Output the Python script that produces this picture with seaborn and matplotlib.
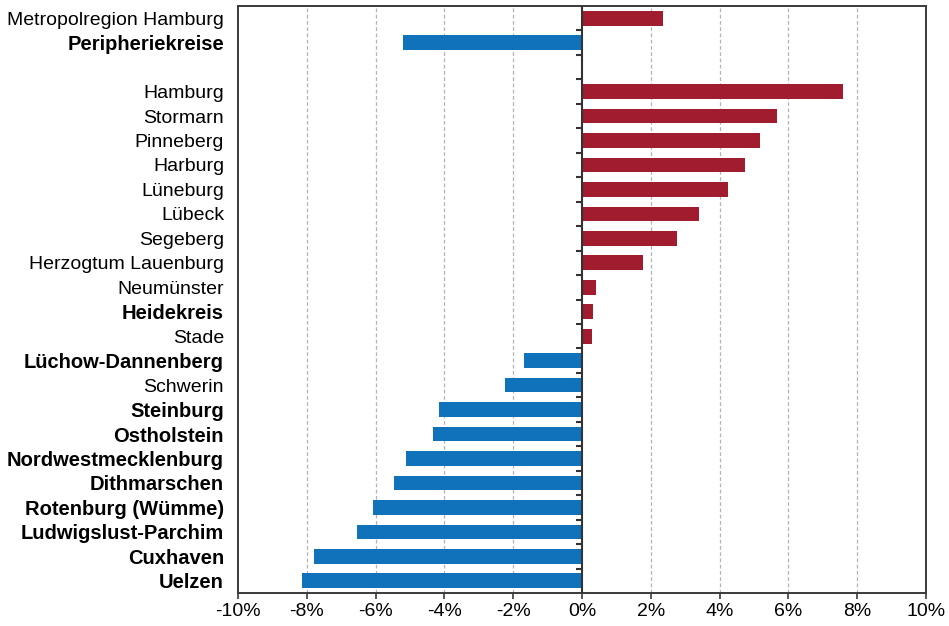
import matplotlib
matplotlib.use('Agg')
import matplotlib.pyplot as plt
from matplotlib.ticker import PercentFormatter
import seaborn as sns
import pandas as pd

# Veränderung in Prozent, von oben nach unten wie im Diagramm
regionen = ['Metropolregion Hamburg', 'Peripheriekreise',
            'Hamburg', 'Stormarn', 'Pinneberg', 'Harburg', 'Lüneburg', 'Lübeck',
            'Segeberg', 'Herzogtum Lauenburg', 'Neumünster', 'Heidekreis', 'Stade',
            'Lüchow-Dannenberg', 'Schwerin', 'Steinburg', 'Ostholstein',
            'Nordwestmecklenburg', 'Dithmarschen', 'Rotenburg (Wümme)',
            'Ludwigslust-Parchim', 'Cuxhaven', 'Uelzen']
werte = [2.36, -5.19,
         7.59, 5.68, 5.18, 4.73, 4.25, 3.39,
         2.75, 1.78, 0.41, 0.32, 0.29,
         -1.69, -2.24, -4.15, -4.32,
         -5.12, -5.46, -6.08,
         -6.55, -7.80, -8.13]
# Peripheriekreise werden fett gesetzt
peripherie = ['Peripheriekreise', 'Heidekreis', 'Lüchow-Dannenberg', 'Steinburg',
              'Ostholstein', 'Nordwestmecklenburg', 'Dithmarschen',
              'Rotenburg (Wümme)', 'Ludwigslust-Parchim', 'Cuxhaven', 'Uelzen']

# Reihenfolge mit Leerzeile nach "Peripheriekreise"
reihenfolge = regionen[:2] + [' '] + regionen[2:]

ROT = '#A11C2F'
BLAU = '#0F72BA'

df = pd.DataFrame({'Region': regionen, 'Wert': werte})
df['Vorzeichen'] = ['pos' if w >= 0 else 'neg' for w in werte]

sns.set_style('white')
plt.rcParams['font.family'] = ['Liberation Sans', 'DejaVu Sans']
plt.rcParams['axes.unicode_minus'] = False
plt.rcParams['text.color'] = 'black'
plt.rcParams['xtick.color'] = 'black'
plt.rcParams['ytick.color'] = 'black'

fig = plt.figure(figsize=(9.49, 6.26), dpi=100)
ax = fig.add_axes([0.2508, 0.0527, 0.7250, 0.9377])

sns.barplot(data=df, x='Wert', y='Region', order=reihenfolge, hue='Vorzeichen',
            palette={'pos': ROT, 'neg': BLAU}, width=0.6, saturation=1,
            legend=False, edgecolor='none', ax=ax)

ax.set_xlim(-10, 10)
ax.set_ylim(len(reihenfolge) - 0.5, -0.5)
ax.set_xticks(range(-10, 11, 2))
ax.xaxis.set_major_formatter(PercentFormatter(decimals=0))
ax.set_xlabel('')
ax.set_ylabel('')

# gestrichelte Gitterlinien
for x in range(-8, 9, 2):
    if x != 0:
        ax.axvline(x, color='#b4b4b4', linestyle=(0, (3, 2)), linewidth=0.9, zorder=0)

# Nulllinie mit kleinen Strichen zwischen den Kategorien
ax.axvline(0, color='#333333', linewidth=1.5, zorder=3)
grenzen = [i + 0.5 for i in range(len(reihenfolge) - 1)]
ax.plot([0] * len(grenzen), grenzen, linestyle='none', marker=0, markersize=4.5,
        markeredgewidth=1.5, color='#333333', zorder=3, clip_on=False)

for sp in ax.spines.values():
    sp.set_visible(True)
    sp.set_color('#3a3a3a')
    sp.set_linewidth(1.4)

ax.tick_params(axis='x', direction='out', length=4, width=1.2, color='#3a3a3a',
               labelsize=14, labelcolor='black', pad=3, bottom=True)
ax.tick_params(axis='y', length=0, labelsize=14, labelcolor='black', pad=10)

for lbl in ax.get_yticklabels():
    if lbl.get_text() in peripherie:
        lbl.set_fontweight('bold')
        lbl.set_fontsize(14.5)

fig.savefig('out.png', dpi=100)
